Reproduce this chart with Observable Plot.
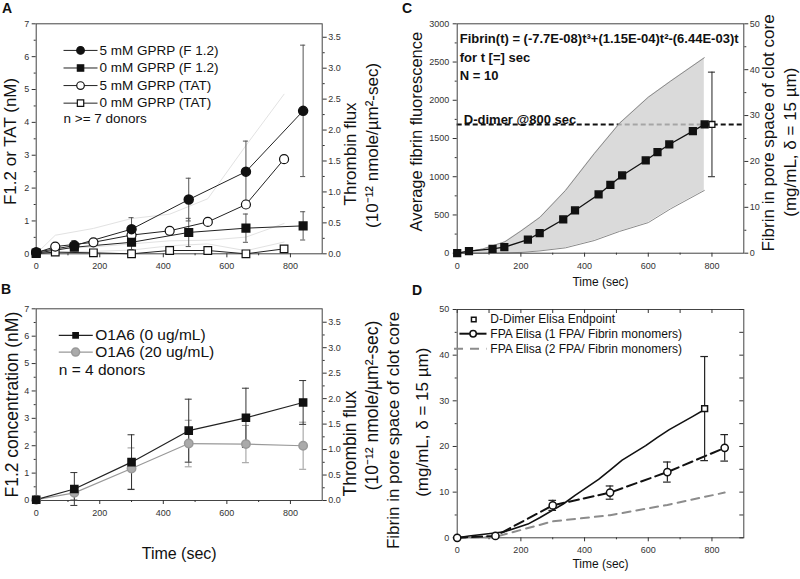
<!DOCTYPE html>
<html><head><meta charset="utf-8">
<script src="https://cdn.jsdelivr.net/npm/d3@7"></script>
<script src="https://cdn.jsdelivr.net/npm/@observablehq/plot@0.6"></script>
<style>
html,body{margin:0;padding:0;background:#fff;}
#wrap{position:relative;width:800px;height:579px;overflow:hidden;background:#fff;font-family:"Liberation Sans",Arial,sans-serif;}
.panel{position:absolute;}
.letter{position:absolute;font-weight:bold;font-size:14px;line-height:14px;color:#111;}
</style></head><body>
<div id="wrap"></div>
<script>
// ================= DATA =================
// Panel A
const aF12Times = [0, 120, 300, 480, 660, 840];
const aF12Gprp5 = [0.05, 0.25, 0.75, 1.65, 2.5, 4.35];
const aF12Gprp5Err = [0, 0.15, 0.35, 0.65, 0.93, 2.0];
const aF12Gprp0 = [0.02, 0.2, 0.35, 0.65, 0.78, 0.85];
const aF12Gprp0Err = [0, 0.1, 0.22, 0.43, 0.43, 0.43];
const aTatTimes = [0, 60, 180, 300, 420, 540, 660, 780];
const aTatGprp5 = [0.03, 0.22, 0.35, 0.57, 0.7, 0.97, 1.5, 2.88];
const aTatGprp0 = [0.01, 0.05, 0.03, 0.0, 0.1, 0.1, 0.0, 0.15];
const aFluxTimes = [0, 60, 180, 300, 420, 540, 660, 780];
const aFluxUpper = [0, 0.3, 0.41, 0.57, 0.64, 0.89, 1.75, 2.58];
const aFluxMiddle = [0, 0.08, 0.11, 0.16, 0.21, 0.22, 0.27, 0.49];
const aFluxLower = [0, 0.03, 0.04, 0.06, 0.13, 0.16, 0.05, 0.19];
const aLegendLabels = ["5 mM GPRP (F 1.2)", "0 mM GPRP (F 1.2)", "5 mM GPRP (TAT)", "0 mM GPRP (TAT)"];
const aNote = "n >= 7 donors";
const aFluxPerNM = 1.883;           // right-axis relation (nM per flux unit)

// Panel B
const bTimes = [0, 120, 300, 480, 660, 840];
const b0ug = [0.03, 0.42, 1.4, 2.55, 3.02, 3.58];
const b0ugErr = [0, 0.6, 1.0, 1.15, 1.08, 0.8];
const b20ug = [0.03, 0.28, 1.17, 2.08, 2.06, 2.0];
const b20ugErr = [0, 0.25, 0.75, 0.85, 0.68, 0.86];
const bLegendLabels = ["O1A6 (0 ug/mL)", "O1A6 (20 ug/mL)"];
const bNote = "n = 4 donors";
const bFluxPerNM = 1.86;

// Panel C
const cTimes = [0, 37, 111, 148, 222, 259, 333, 370, 444, 481, 518, 592, 629, 666, 740, 777];
const cFluor = [0, 26, 57, 79, 179, 262, 441, 559, 768, 895, 1017, 1213, 1321, 1422, 1596, 1684];
const cBandTimes = [0, 80, 150, 200, 260, 340, 430, 510, 600, 670, 776];
const cBandUpper = [0, 55, 150, 290, 470, 820, 1300, 1700, 2040, 2250, 2556];
const cBandLower = [0, 2, 5, 10, 30, 70, 165, 285, 400, 580, 820];
const cDdimerTime = 800;
const cDdimer = 1684;
const cDdimerErr = 684;
const cFluorPerMgmL = 60;
const cFormula = "Fibrin(t) = (-7.7E-08)t³+(1.15E-04)t²-(6.44E-03)t";
const cNotes = ["for t [=] sec", "N = 10"];
const cDdimerLabel = "D-dimer @800 sec";

// Panel D
const dFibrinTimes = [0, 37, 111, 148, 222, 259, 333, 370, 444, 481, 518, 592, 629, 666, 740, 777];
const dFibrin = [0, 0.4, 1.0, 1.3, 3.0, 4.4, 7.4, 9.3, 12.8, 14.9, 17.0, 20.2, 22.0, 23.7, 26.6, 28.1];
const dDimerTime = 777, dDimer = 28.3, dDimerErr = 11.4;
const dFpaTimes = [0, 120, 300, 480, 660, 840];
const dFpa1 = [0, 0.4, 7.1, 9.9, 14.4, 19.7];
const dFpa1Err = [0, 0, 1.1, 1.45, 2.2, 2.9];
const dFpa2 = [0, 0.2, 3.6, 4.95, 7.2, 9.9];
const dLegendLabels = ["D-Dimer Elisa Endpoint", "FPA Elisa (1 FPA/ Fibrin monomers)", "FPA Elisa (2 FPA/ Fibrin monomers)"];

// tick values
const timeTicks = [0, 200, 400, 600, 800];
const timeMinor = [100, 300, 500, 700];
const abYTicks = [0, 1, 2, 3, 4, 5, 6, 7];
const fluxTicks = [0, 0.5, 1.0, 1.5, 2.0, 2.5, 3.0, 3.5];
const cYTicks = [0, 500, 1000, 1500, 2000, 2500, 3000];
const mgTicks = [0, 10, 20, 30, 40, 50];

// ================= HELPERS =================
const FONT = '"Liberation Sans", Arial, Helvetica, sans-serif';
const INK = "#333";
const TXT = "#111";
const style = () => ({fontFamily: FONT, fontSize: "9px", color: INK, background: "transparent", overflow: "visible"});
const rows = (ts, vs, es) => ts.map((t, i) => ({t, v: vs[i], e: es ? es[i] : 0}));
const mids = (arr) => arr.slice(1).map((v, i) => (v + arr[i]) / 2);

function errorBars(data, cap, stroke, sw = 1) {
  const d = data.filter(r => r.e > 0);
  return [
    Plot.ruleX(d, {x: "t", y1: r => r.v - r.e, y2: r => r.v + r.e, stroke, strokeWidth: sw}),
    Plot.ruleY(d, {y: r => r.v + r.e, x1: r => r.t - cap, x2: r => r.t + cap, stroke, strokeWidth: sw}),
    Plot.ruleY(d, {y: r => r.v - r.e, x1: r => r.t - cap, x2: r => r.t + cap, stroke, strokeWidth: sw})
  ];
}
function bottomAxis() {
  return [
    Plot.axisX(timeTicks, {anchor: "bottom", tickSize: 4, tickPadding: 5, label: null, tickFormat: String, fontSize: 9}),
    Plot.axisX(timeMinor, {anchor: "bottom", tickSize: 2, label: null, tickFormat: () => ""})
  ];
}
function leftAxis(major, pad) {
  return [
    Plot.axisY(major, {anchor: "left", tickSize: 4, tickPadding: pad, label: null, tickFormat: String, fontSize: 9}),
    Plot.axisY(mids(major), {anchor: "left", tickSize: 2, label: null, tickFormat: () => ""})
  ];
}
function rightAxis(major, ratio, digits) {
  const maj = major.map(v => v * ratio);
  return [
    Plot.axisY(maj, {anchor: "right", tickSize: 4, tickPadding: 2, label: null, fontSize: 9,
      tickFormat: d => (d / ratio).toFixed(digits)}),
    Plot.axisY(mids(maj), {anchor: "right", tickSize: 2, label: null, tickFormat: () => ""})
  ];
}
// rotated axis title placed in the panel's own (extended) data space
const vTitle = (s, t, v, size) => Plot.text([s], {x: () => t, y: () => v, text: d => d, rotate: -90, fontSize: size, fill: TXT});
const hTitle = (s, dy, size) => Plot.text([s], {text: d => d, frameAnchor: "bottom", dy, fontSize: size, fill: TXT});

const wrap = document.getElementById("wrap");
function place(svg, left, top) {
  const div = document.createElement("div");
  div.className = "panel"; div.style.left = left + "px"; div.style.top = top + "px";
  div.appendChild(svg); wrap.appendChild(div);
}
function letter(s, left, top) {
  const d = document.createElement("div");
  d.className = "letter"; d.textContent = s; d.style.left = left + "px"; d.style.top = top + "px";
  wrap.appendChild(d);
}

// ================= PANEL A =================
{
  const f5 = rows(aF12Times, aF12Gprp5, aF12Gprp5Err);
  const f0 = rows(aF12Times, aF12Gprp0, aF12Gprp0Err);
  const t5 = rows(aTatTimes, aTatGprp5);
  const t0 = rows(aTatTimes, aTatGprp0);
  const flux = [aFluxUpper, aFluxMiddle, aFluxLower].map(s => rows(aFluxTimes, s.map(v => v * aFluxPerNM)));
  const leg = aLegendLabels.map((label, i) => ({label, i}));
  const ly = d => 6.19 - d.i * 0.535;
  const svg = Plot.plot({
    width: 400, height: 280,
    marginLeft: 35.7, marginRight: 78.3, marginTop: 23.3, marginBottom: 26.7,
    x: {domain: [0, 900], axis: null},
    y: {domain: [0, 7], axis: null},
    style: style(),
    marks: [
      ...flux.map(f => Plot.line(f, {x: "t", y: "v", stroke: "#e2e2e2", strokeWidth: 1})),
      Plot.frame({stroke: "#444"}),
      ...bottomAxis(), ...leftAxis(abYTicks, 3), ...rightAxis(fluxTicks, aFluxPerNM, 1),
      ...errorBars(f5, 8, "#555"), ...errorBars(f0, 8, "#555"),
      Plot.line(t0, {x: "t", y: "v", stroke: "#222", strokeWidth: 1}),
      Plot.line(t5, {x: "t", y: "v", stroke: "#222", strokeWidth: 1}),
      Plot.line(f0, {x: "t", y: "v", stroke: "#222", strokeWidth: 1}),
      Plot.line(f5, {x: "t", y: "v", stroke: "#222", strokeWidth: 1}),
      Plot.dot(t0, {x: "t", y: "v", symbol: "square", r: 4.3, fill: "white", stroke: "#111", strokeWidth: 1.2}),
      Plot.dot(t5, {x: "t", y: "v", symbol: "circle", r: 4.5, fill: "white", stroke: "#111", strokeWidth: 1.2}),
      Plot.dot(f0, {x: "t", y: "v", symbol: "square", r: 4.3, fill: "#111", stroke: "#111"}),
      Plot.dot(f5, {x: "t", y: "v", symbol: "circle", r: 4.5, fill: "#111", stroke: "#111"}),
      // legend
      Plot.link(leg, {x1: 86, x2: 193, y1: ly, y2: ly, stroke: "#222"}),
      Plot.dot(leg.filter(d => d.i % 2 === 0), {x: 139.5, y: ly, symbol: "circle", r: 3.8, fill: d => d.i < 2 ? "#111" : "white", stroke: "#111", strokeWidth: 1.2}),
      Plot.dot(leg.filter(d => d.i % 2 === 1), {x: 139.5, y: ly, symbol: "square", r: 3.6, fill: d => d.i < 2 ? "#111" : "white", stroke: "#111", strokeWidth: 1.2}),
      Plot.text(leg, {x: 199, y: ly, text: "label", textAnchor: "start", fontSize: 13.5, fill: TXT}),
      Plot.text([aNote], {x: 86, y: 4.1, text: d => d, textAnchor: "start", fontSize: 13.5, fill: TXT}),
      // titles
      vTitle("F1.2 or TAT (nM)", -81, 3.42, 17),
      vTitle("Thrombin flux", 989, 3.04, 17),
      vTitle("(10⁻¹² nmole/µm²-sec)", 1058, 3.3, 17)
    ]
  });
  place(svg, 0, 0);
}

// ================= PANEL B =================
{
  const s0 = rows(bTimes, b0ug, b0ugErr);
  const s20 = rows(bTimes, b20ug, b20ugErr);
  const leg = bLegendLabels.map((label, i) => ({label, i}));
  const ly = d => 6.03 - d.i * 0.61;
  const svg = Plot.plot({
    width: 400, height: 299,
    marginLeft: 35.7, marginRight: 78.3, marginTop: 28.3, marginBottom: 79,
    x: {domain: [0, 900], axis: null},
    y: {domain: [0, 7], axis: null},
    style: style(),
    marks: [
      Plot.frame({stroke: "#444"}),
      ...bottomAxis(), ...leftAxis(abYTicks, 3), ...rightAxis(fluxTicks, bFluxPerNM, 1),
      ...errorBars(s20, 11, "#999"), ...errorBars(s0, 11, "#333"),
      Plot.line(s20, {x: "t", y: "v", stroke: "#999", strokeWidth: 1.2}),
      Plot.line(s0, {x: "t", y: "v", stroke: "#222", strokeWidth: 1.2}),
      Plot.dot(s20, {x: "t", y: "v", symbol: "circle", r: 4.2, fill: "#aaa", stroke: "#999"}),
      Plot.dot(s0, {x: "t", y: "v", symbol: "square", r: 4, fill: "#111", stroke: "#111"}),
      // legend
      Plot.link(leg, {x1: 71, x2: 178, y1: ly, y2: ly, stroke: d => d.i ? "#999" : "#222", strokeWidth: 1.2}),
      Plot.dot(leg.filter(d => d.i === 0), {x: 124, y: ly, symbol: "square", r: 3.8, fill: "#111"}),
      Plot.dot(leg.filter(d => d.i === 1), {x: 124, y: ly, symbol: "circle", r: 4, fill: "#aaa", stroke: "#999"}),
      Plot.text(leg, {x: 186, y: ly, text: "label", textAnchor: "start", fontSize: 15.5, fill: TXT}),
      Plot.text([bNote], {x: 71, y: 4.77, text: d => d, textAnchor: "start", fontSize: 15.5, fill: TXT}),
      // titles
      vTitle("F1.2 concentration (nM)", -75, 3.5, 17.5),
      vTitle("Thrombin flux", 989, 2.08, 17.5),
      vTitle("(10⁻¹² nmole/µm²-sec)", 1058, 3.47, 17.5),
      hTitle("Time (sec)", 58, 16)
    ]
  });
  place(svg, 0, 280);
}

// ================= PANEL C =================
{
  const series = rows(cTimes, cFluor);
  const band = cBandTimes.map((t, i) => ({t, lo: cBandLower[i], hi: cBandUpper[i]}));
  const end = [{t: cDdimerTime, v: cDdimer, e: cDdimerErr}];
  const note = (s, dx, dy) => Plot.text([s], {text: d => d, frameAnchor: "top-left", textAnchor: "start", dx, dy, fontSize: 13, fontWeight: "bold", fill: TXT});
  const svg = Plot.plot({
    width: 400, height: 280,
    marginLeft: 56.7, marginRight: 56.7, marginTop: 23.3, marginBottom: 27.3,
    x: {domain: [0, 900], axis: null},
    y: {domain: [0, 3000], axis: null},
    style: style(),
    marks: [
      Plot.ruleY([cDdimer], {y: d => d, stroke: "#111", strokeWidth: 2, strokeDasharray: "5,3"}),
      Plot.areaY(band, {x: "t", y1: "lo", y2: "hi", fill: "#cfcfcf", fillOpacity: 0.78}),
      Plot.line(band, {x: "t", y: "hi", stroke: "#8a8a8a", strokeWidth: 1}),
      Plot.line(band, {x: "t", y: "lo", stroke: "#8a8a8a", strokeWidth: 1}),
      Plot.frame({stroke: "#444"}),
      ...bottomAxis(), ...leftAxis(cYTicks, 4), ...rightAxis(mgTicks, cFluorPerMgmL, 0),
      ...errorBars(end, 11, "#222"),
      Plot.line(series, {x: "t", y: "v", stroke: "#111", strokeWidth: 1.3}),
      Plot.dot(series, {x: "t", y: "v", symbol: "square", r: 3.8, fill: "#111", stroke: "#111"}),
      Plot.dot(end, {x: "t", y: "v", symbol: "square", r: 3.3, fill: "white", stroke: "#111", strokeWidth: 1.3}),
      // annotations
      note(cFormula, 2.5, 9.7),
      note(cNotes[0], 2.5, 28.5),
      note(cNotes[1], 2.5, 46.5),
      note(cDdimerLabel, 6.6, 90.5),
      // titles
      vTitle("Average fibrin fluorescence", -126, 1590, 16.5),
      vTitle("Fibrin in pore space of clot core", 978, 1572, 17),
      vTitle("(mg/mL, δ = 15 µm)", 1047, 1452, 17),
      hTitle("Time (sec)", 32.3, 12)
    ]
  });
  place(svg, 400, 0);
}

// ================= PANEL D =================
{
  const fib = rows(dFibrinTimes, dFibrin);
  const fpa1 = rows(dFpaTimes, dFpa1, dFpa1Err);
  const fpa2 = rows(dFpaTimes, dFpa2);
  const end = [{t: dDimerTime, v: dDimer, e: dDimerErr}];
  const leg = dLegendLabels.map((label, i) => ({label, i}));
  const ly = d => [47.8, 44.7, 41.4][d.i];
  const frameW = 400 - 56.7 - 56.7, frameH = 299 - 29 - 41.7;
  const svg = Plot.plot({
    width: 400, height: 299,
    marginLeft: 56.7, marginRight: 56.7, marginTop: 29, marginBottom: 41.7,
    x: {domain: [0, 900], axis: null},
    y: {domain: [0, 50], axis: null},
    style: style(),
    marks: [
      Plot.frame({stroke: "#444"}),
      ...bottomAxis(), ...leftAxis(mgTicks, 4),
      Plot.tickX([...timeTicks, ...timeMinor], {x: d => d, insetBottom: frameH - 4, stroke: INK}),
      Plot.tickY([...mgTicks, ...mids(mgTicks)], {y: d => d, insetLeft: frameW - 4, stroke: INK}),
      Plot.line(fpa2, {x: "t", y: "v", stroke: "#8c8c8c", strokeWidth: 2, strokeDasharray: "8,6"}),
      Plot.line(fib, {x: "t", y: "v", stroke: "#111", strokeWidth: 1.6}),
      Plot.line(fpa1, {x: "t", y: "v", stroke: "#111", strokeWidth: 2, strokeDasharray: "10,5"}),
      ...errorBars(end, 12, "#222", 1.2), ...errorBars(fpa1, 12, "#222", 1.2),
      Plot.dot(fpa1, {x: "t", y: "v", symbol: "circle", r: 3.6, fill: "white", stroke: "#111", strokeWidth: 1.5}),
      Plot.dot(end, {x: "t", y: "v", symbol: "square", r: 3.3, fill: "white", stroke: "#111", strokeWidth: 1.5}),
      // legend
      Plot.dot(leg.filter(d => d.i === 0), {x: 52, y: ly, symbol: "square", r: 2.6, fill: "white", stroke: "#111", strokeWidth: 1.5}),
      Plot.link(leg.filter(d => d.i === 1), {x1: 7, x2: 92, y1: ly, y2: ly, stroke: "#111", strokeWidth: 2}),
      Plot.dot(leg.filter(d => d.i === 1), {x: 50, y: ly, symbol: "circle", r: 3.2, fill: "white", stroke: "#111", strokeWidth: 1.5}),
      Plot.link(leg.filter(d => d.i === 2), {x1: -10, x2: 92, y1: ly, y2: ly, stroke: "#8c8c8c", strokeWidth: 2, strokeDasharray: "9,7"}),
      Plot.text(leg, {x: 104, y: ly, text: "label", textAnchor: "start", fontSize: 12, fill: TXT}),
      // titles
      vTitle("Fibrin in pore space of clot core", -200, 23.5, 17),
      vTitle("(mg/mL, δ = 15 µm)", -110, 25.3, 17),
      hTitle("Time (sec)", 30, 12)
    ]
  });
  place(svg, 400, 280);
}

letter("A", 2, 1);
letter("B", 1, 282);
letter("C", 402, 1);
letter("D", 412, 283);
</script>
</body></html>
